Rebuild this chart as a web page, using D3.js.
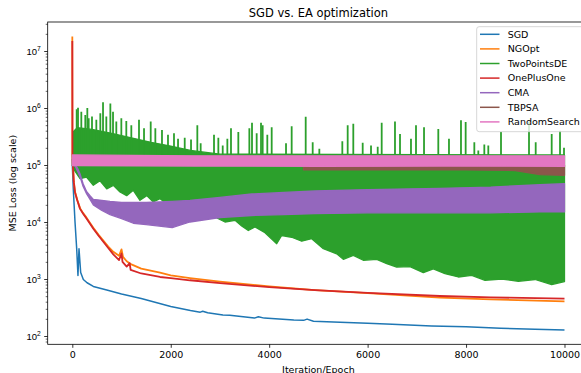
<!DOCTYPE html>
<html><head><meta charset="utf-8">
<script src="https://cdn.jsdelivr.net/npm/d3@7"></script>
<style>body{margin:0;background:#fff}svg{display:block;font-family:"DejaVu Sans",sans-serif}</style>
</head><body>
<svg id="c" width="581" height="373"></svg>
<script>
// ---------- data ----------
const seriesNames = ["SGD","NGOpt","TwoPointsDE","OnePlusOne","CMA","TBPSA","RandomSearch"];
const seriesColors = ["#1f77b4","#ff7f0e","#2ca02c","#d62728","#9467bd","#8c564b","#e377c2"];
const xTicks = [0,2000,4000,6000,8000,10000];
const yTickExps = [2,3,4,5,6,7];

const sgdIter = [0,20,55,89,115,136,170,224,300,427,700,1000,1400,2000,2400,2600,2650,2750,3060,3200,3700,3780,3900,4500,4700,4770,4900,5440,6000,6500,7300,8000,8700,9400,10000];
const sgdLoss = [100000,38000,10000,3400,1150,3400,1300,980,860,740,640,545,455,330,280,262,272,255,234,232,206,218,206,191,188,198,181,174,167,160,150,145,137,132,128];

const ngoptIter = [0,3,10,30,55,100,157,220,292,360,427,530,630,730,833,950,1000,1030,1105,1200,1400,1782,2000,2390,3000,4000,4930,6000,7470,8500,10000];
const ngoptLoss = [18000000,150000,110000,52000,34000,24500,17500,14300,11800,9600,7900,6000,4700,3700,3000,2550,3300,2450,2050,1800,1520,1290,1160,1040,900,740,640,565,470,440,406];

const opoIter = [0,3,10,30,55,100,157,220,292,360,427,530,630,730,833,950,1000,1020,1105,1165,1185,1400,1782,2000,2390,3000,4000,4930,6000,7470,8500,10000];
const opoLoss = [15000000,150000,110000,50000,33000,24000,17000,14000,11400,9300,7600,5800,4500,3500,2700,2150,2800,2000,1650,1900,1450,1250,1085,1040,950,850,720,640,570,503,475,452];

// TwoPointsDE: dense body (upper and lower edge) plus the spikes above it
const tpdeUpperIter = [0,15,100,400,800,1200,1600,2000,2400,3000,10000];
const tpdeUpperLoss = [110000,380000,450000,420000,360000,300000,250000,215000,180000,155000,150000];
const tpdeLowerIter = [0,20,157,292,427,563,699,833,969,1105,1239,1375,1512,1646,1782,1918,2121,2391,2700,2967,3102,3306,3441,3576,3712,3915,4153,4254,4457,4661,4864,5100,5372,5506,5709,5912,6185,6388,6591,6861,7132,7335,7572,7843,8115,8385,8724,9063,9401,9740,10000];
const tpdeLowerLoss = [100000,86000,57500,61000,44000,53000,38000,44000,33600,29000,36000,24000,29000,22400,25700,21000,22400,21000,15000,11400,10000,10700,8500,7100,8200,6500,4150,5800,5400,4600,5100,3400,2770,2210,2600,2130,2210,1860,1620,1650,1290,1510,1240,1085,1160,950,1000,910,980,800,900];
const tpdeSpikeBase = 120000;
const tpdeSpikeIter = [89,116,183,264,305,333,400,488,569,624,691,773,827,894,996,1097,1199,1355,1457,1593,1687,1822,1944,2066,2148,2284,2412,2540,2608,2879,2967,3056,3150,3224,3373,3597,3651,3746,3834,3868,3962,4051,4342,4457,4742,4884,5019,5486,5595,5709,5900,6069,6205,6286,6556,6658,6881,6983,7146,7436,7653,7897,7992,8168,8249,8371,8452,8710,8960,9279,9415,9740,9909,9990];
const tpdeSpikeLoss = [950000,1010000,860000,750000,1000000,660000,710000,620000,810000,1260000,710000,1200000,860000,580000,660000,590000,500000,620000,440000,580000,440000,410000,340000,360000,290000,300000,280000,500000,240000,340000,300000,220000,290000,440000,380000,440000,550000,360000,550000,500000,340000,460000,240000,480000,700000,250000,193000,260000,500000,530000,246000,220000,210000,550000,580000,350000,290000,500000,460000,430000,290000,610000,570000,250000,180000,230000,220000,380000,130000,570000,250000,350000,400000,200000];

const cmaIter = [0,60,100,157,220,292,360,427,600,766,1000,1240,1500,2030,2390,3000,3645,4300,4930,6000,7470,8500,9500,10000];
const cmaLow  = [100000,95000,80000,62000,42000,31000,25000,20000,16000,13500,11500,9500,9000,8000,10000,12000,13000,13500,14000,14500,14500,14500,15000,15000];
const cmaHigh = [100000,100000,90000,70000,47000,34000,29000,25000,24000,23000,22000,22000,22000,23000,24000,27000,31000,33000,35000,37000,39000,41000,45000,47000];

const tbpsaIter = [0,4690,4700,6000,8000,9000,9500,10000];
const tbpsaLow  = [100000,100000,82000,82000,82000,80000,68000,66000];
const tbpsaHigh = [125000,125000,100000,100000,100000,100000,100000,100000];

const rsIter = [0,2500,5000,7500,10000];
const rsLow  = [98000,96000,95000,96000,95000];
const rsHigh = [150000,145000,145000,145000,145000];

// ---------- layout ----------
const svg = d3.select("#c");
const L = 47.7, T = 22, B = 344.3, R = 589.1;
const x = d3.scaleLinear().domain([-500,10500]).range([L,R]);
const y = d3.scaleLog().domain([Math.pow(10,1.8544), Math.pow(10,7.5088)]).range([B,T]);

svg.append("defs").append("clipPath").attr("id","clip")
  .append("rect").attr("x",L).attr("y",T).attr("width",R-L).attr("height",B-T);
const g = svg.append("g").attr("clip-path","url(#clip)");

const zipLine = (xs, ys) => xs.map((v,i)=>[v, ys[i]]);
const zipBand = (xs, lo, hi) => xs.map((v,i)=>[v, lo[i], hi[i]]);
const line = d3.line().x(d=>x(d[0])).y(d=>y(d[1]));
const closed = d3.line().x(d=>x(d[0])).y(d=>y(d[1])).curve(d3.curveLinearClosed);
const area = d3.area().x(d=>x(d[0])).y0(d=>y(d[1])).y1(d=>y(d[2]));

function drawLine(xs, ys, col, w){
  g.append("path").datum(zipLine(xs,ys)).attr("d",line)
   .attr("fill","none").attr("stroke",col).attr("stroke-width",w).attr("stroke-linejoin","round");
}
function drawBand(xs, lo, hi, col){
  g.append("path").datum(zipBand(xs,lo,hi)).attr("d",area)
   .attr("fill",col).attr("stroke",col).attr("stroke-width",1.3).attr("stroke-linejoin","round");
}

// plotting order as in the original
drawLine(sgdIter, sgdLoss, seriesColors[0], 1.5);
drawLine(ngoptIter, ngoptLoss, seriesColors[1], 1.8);
// TwoPointsDE body
const tpdeBody = zipLine(tpdeUpperIter, tpdeUpperLoss).concat(zipLine(tpdeLowerIter, tpdeLowerLoss).reverse());
g.append("path").datum(tpdeBody).attr("d",closed)
  .attr("fill",seriesColors[2]).attr("stroke",seriesColors[2]).attr("stroke-width",1.3).attr("stroke-linejoin","round");
g.append("g").selectAll("line").data(zipLine(tpdeSpikeIter, tpdeSpikeLoss)).join("line")
  .attr("x1",d=>x(d[0])).attr("x2",d=>x(d[0]))
  .attr("y1",y(tpdeSpikeBase)).attr("y2",d=>y(d[1]))
  .attr("stroke",seriesColors[2]).attr("stroke-width",1.8);
drawLine(opoIter, opoLoss, seriesColors[3], 1.8);
drawBand(cmaIter, cmaLow, cmaHigh, seriesColors[4]);
drawBand(tbpsaIter, tbpsaLow, tbpsaHigh, seriesColors[5]);
drawBand(rsIter, rsLow, rsHigh, seriesColors[6]);

// ---------- axes ----------
const xAxis = d3.axisBottom(x).tickValues(xTicks).tickSize(3.5).tickPadding(3).tickFormat(d3.format("d"));
const xg = svg.append("g").attr("transform",`translate(0,${B})`).call(xAxis);
xg.select(".domain").remove();
xg.selectAll("line").attr("stroke","#000").attr("stroke-width",0.8);
xg.selectAll("text").attr("font-size","9.5px").attr("font-family","DejaVu Sans").attr("fill","#000");

const majors = yTickExps.map(e=>Math.pow(10,e));
const minors = [];
[1,2,3,4,5,6,7].forEach(e=>{ for(let k=2;k<=9;k++){ const v=k*Math.pow(10,e); if(v>=y.domain()[0]&&v<=y.domain()[1]) minors.push(v);} });
const yMinor = svg.append("g").attr("transform",`translate(${L},0)`)
  .call(d3.axisLeft(y).tickValues(minors).tickSize(2).tickFormat(""));
yMinor.select(".domain").remove();
yMinor.selectAll("line").attr("stroke","#000").attr("stroke-width",0.6);
const yg = svg.append("g").attr("transform",`translate(${L},0)`)
  .call(d3.axisLeft(y).tickValues(majors).tickSize(3.5).tickPadding(3).tickFormat(""));
yg.select(".domain").remove();
yg.selectAll("line").attr("stroke","#000").attr("stroke-width",0.8);
yg.selectAll(".tick").each(function(d,i){
  const t = d3.select(this).append("text").attr("x",-7).attr("dy","0.32em")
    .attr("text-anchor","end").attr("font-size","9.5px").attr("fill","#000");
  t.append("tspan").text("10");
  t.append("tspan").text(yTickExps[i]).attr("font-size","6.7px").attr("dy","-0.55em");
});

// spines
svg.append("rect").attr("x",L).attr("y",T).attr("width",R-L).attr("height",B-T)
  .attr("fill","none").attr("stroke","#000").attr("stroke-width",0.8);

// labels
svg.append("text").attr("x",(L+R)/2).attr("y",16.5).attr("text-anchor","middle")
  .attr("font-size","11.5px").text("SGD vs. EA optimization");
svg.append("text").attr("x",(L+R)/2).attr("y",372.5).attr("text-anchor","middle")
  .attr("font-size","9.5px").text("Iteration/Epoch");
svg.append("text").attr("transform",`translate(16,${(T+B)/2}) rotate(-90)`).attr("text-anchor","middle")
  .attr("font-size","9.5px").text("MSE Loss (log scale)");

// legend
const lg = svg.append("g");
lg.append("rect").attr("x",476.7).attr("y",26.7).attr("width",108).attr("height",105).attr("rx",2.5)
  .attr("fill","#fff").attr("fill-opacity",0.8).attr("stroke","#cccccc").attr("stroke-width",0.8);
seriesNames.forEach((n,i)=>{
  const yy = 34.3 + i*14.6;
  lg.append("line").attr("x1",480).attr("x2",499.5).attr("y1",yy).attr("y2",yy)
    .attr("stroke",seriesColors[i]).attr("stroke-width",1.5);
  lg.append("text").attr("x",507.7).attr("y",yy).attr("dy","0.35em").attr("font-size","9.5px").text(n);
});
</script>
</body></html>
